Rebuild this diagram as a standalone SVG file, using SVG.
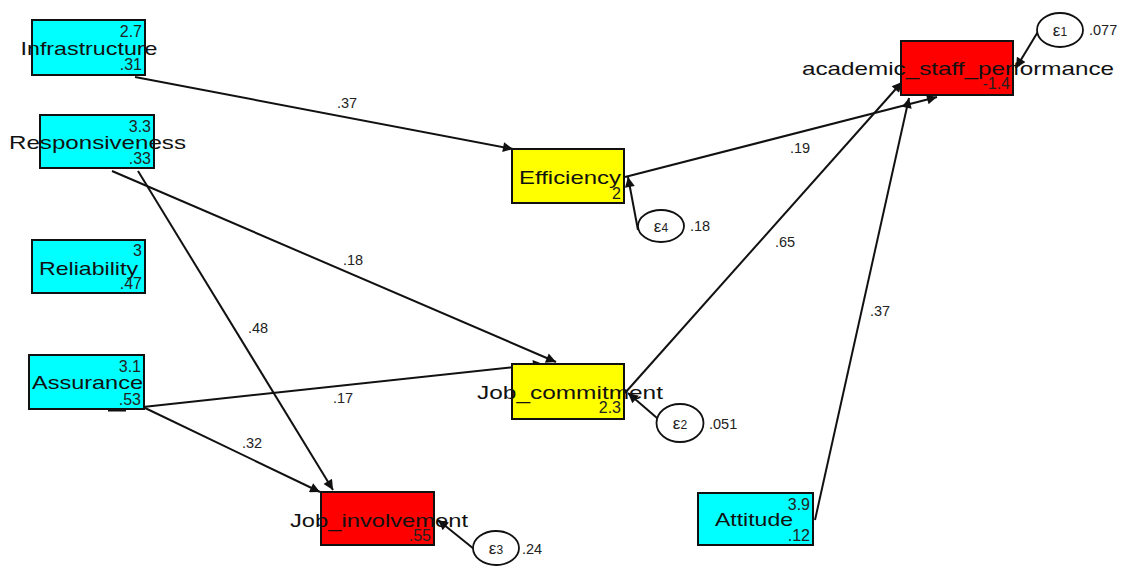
<svg xmlns="http://www.w3.org/2000/svg" width="1138" height="579" viewBox="0 0 1138 579">
<defs>
<style>
.box{stroke:#111;stroke-width:2}
.cyan{fill:#00ffff}
.yellow{fill:#ffff00}
.red{fill:#ff0000}
.name{font-family:"Liberation Sans",Arial,sans-serif;font-size:19px;fill:#111;text-anchor:middle}
.val{font-family:"Liberation Sans",Arial,sans-serif;font-size:16px;fill:#222;text-anchor:end}
.lbl{font-family:"Liberation Sans",Arial,sans-serif;font-size:14.5px;fill:#222;text-anchor:middle}
.eps{font-family:"Liberation Sans",Arial,sans-serif;font-size:17px;fill:#222;text-anchor:middle}
.evar{font-family:"Liberation Sans",Arial,sans-serif;font-size:14.5px;fill:#222}
.edge{stroke:#111;stroke-width:2;fill:none;marker-end:url(#arr)}
.err{fill:#fff;stroke:#111;stroke-width:1.8}
</style>
<marker id="arr" viewBox="0 0 10 10" refX="10" refY="5" markerWidth="6.5" markerHeight="5" markerUnits="strokeWidth" orient="auto">
<path d="M0,0 L10,5 L0,10 z" fill="#111"/>
</marker>
</defs>
<rect width="1138" height="579" fill="#fff"/>

<g id="connectors">
<line class="edge" x1="135" y1="77" x2="513" y2="149"/>
<line class="edge" x1="625" y1="177" x2="937" y2="97"/>
<line class="edge" x1="112" y1="171" x2="556" y2="362"/>
<line class="edge" x1="138" y1="171" x2="333" y2="490"/>
<line class="edge" x1="143" y1="407" x2="543" y2="364"/>
<line class="edge" x1="143" y1="407" x2="320" y2="492"/>
<line class="edge" x1="625" y1="393" x2="902" y2="82"/>
<line class="edge" x1="815" y1="520" x2="909" y2="98"/>
<line class="edge" x1="1039" y1="30" x2="1016" y2="68"/>
<line class="edge" x1="638" y1="230" x2="628" y2="177"/>
<line class="edge" x1="657" y1="418" x2="628" y2="393"/>
<line class="edge" x1="474" y1="549" x2="438" y2="520"/>
<rect x="108" y="409" width="18" height="2.5" fill="#111"/>
<text class="lbl" x="347" y="108">.37</text>
<text class="lbl" x="800" y="153">.19</text>
<text class="lbl" x="353" y="265">.18</text>
<text class="lbl" x="258" y="333">.48</text>
<text class="lbl" x="343" y="403">.17</text>
<text class="lbl" x="252" y="448">.32</text>
<text class="lbl" x="785" y="247">.65</text>
<text class="lbl" x="880" y="316">.37</text>
</g>

<g id="Infrastructure">
<rect class="box cyan" x="32" y="20" width="113" height="55"/>
<text class="val" x="142" y="37">2.7</text>
<text class="name" x="89" y="55" textLength="137" lengthAdjust="spacingAndGlyphs">Infrastructure</text>
<text class="val" x="142" y="70">.31</text>
</g>

<g id="Responsiveness">
<rect class="box cyan" x="40" y="115" width="114" height="53"/>
<text class="val" x="151" y="132">3.3</text>
<text class="name" x="97.5" y="149" textLength="177" lengthAdjust="spacingAndGlyphs">Responsiveness</text>
<text class="val" x="151" y="164">.33</text>
</g>

<g id="Reliability">
<rect class="box cyan" x="32" y="240" width="113" height="53"/>
<text class="val" x="142" y="256">3</text>
<text class="name" x="88.5" y="275" textLength="99" lengthAdjust="spacingAndGlyphs">Reliability</text>
<text class="val" x="142" y="289">.47</text>
</g>

<g id="Assurance">
<rect class="box cyan" x="29" y="355" width="115" height="54"/>
<text class="val" x="141" y="372">3.1</text>
<text class="name" x="87.5" y="389" textLength="111" lengthAdjust="spacingAndGlyphs">Assurance</text>
<text class="val" x="141" y="405">.53</text>
</g>

<g id="Job_involvement">
<rect class="box red" x="321" y="492" width="113" height="53"/>
<text class="name" x="379" y="527" textLength="178" lengthAdjust="spacingAndGlyphs">Job_involvement</text>
<text class="val" x="431" y="541">.55</text>
</g>

<g id="Efficiency">
<rect class="box yellow" x="512" y="149" width="112" height="54"/>
<text class="name" x="570" y="184" textLength="102" lengthAdjust="spacingAndGlyphs">Efficiency</text>
<text class="val" x="621" y="199">2</text>
</g>

<g id="Job_commitment">
<rect class="box yellow" x="512" y="364" width="112" height="55"/>
<text class="name" x="570" y="399" textLength="186" lengthAdjust="spacingAndGlyphs">Job_commitment</text>
<text class="val" x="621" y="413">2.3</text>
</g>

<g id="academic_staff_performance">
<rect class="box red" x="901" y="41" width="112" height="54"/>
<text class="name" x="958" y="75" textLength="312" lengthAdjust="spacingAndGlyphs">academic_staff_performance</text>
<text class="val" x="1010" y="89">-1.4</text>
</g>

<g id="Attitude">
<rect class="box cyan" x="698" y="493" width="115" height="52"/>
<text class="val" x="810" y="510">3.9</text>
<text class="name" x="754" y="526" textLength="78" lengthAdjust="spacingAndGlyphs">Attitude</text>
<text class="val" x="810" y="541">.12</text>
</g>

<g id="e1">
<ellipse class="err" cx="1060" cy="30" rx="23" ry="17"/>
<text class="eps" x="1060" y="36">ε<tspan font-size="12">1</tspan></text>
<text class="evar" x="1089" y="35">.077</text>
</g>

<g id="e4">
<ellipse class="err" cx="661" cy="226" rx="23" ry="16"/>
<text class="eps" x="661" y="232">ε<tspan font-size="12">4</tspan></text>
<text class="evar" x="690" y="231">.18</text>
</g>

<g id="e2">
<ellipse class="err" cx="680" cy="423" rx="23.5" ry="19"/>
<text class="eps" x="680" y="429">ε<tspan font-size="12">2</tspan></text>
<text class="evar" x="709" y="429">.051</text>
</g>

<g id="e3">
<ellipse class="err" cx="496" cy="548" rx="23" ry="17"/>
<text class="eps" x="496" y="554">ε<tspan font-size="12">3</tspan></text>
<text class="evar" x="522" y="554">.24</text>
</g>
</svg>
